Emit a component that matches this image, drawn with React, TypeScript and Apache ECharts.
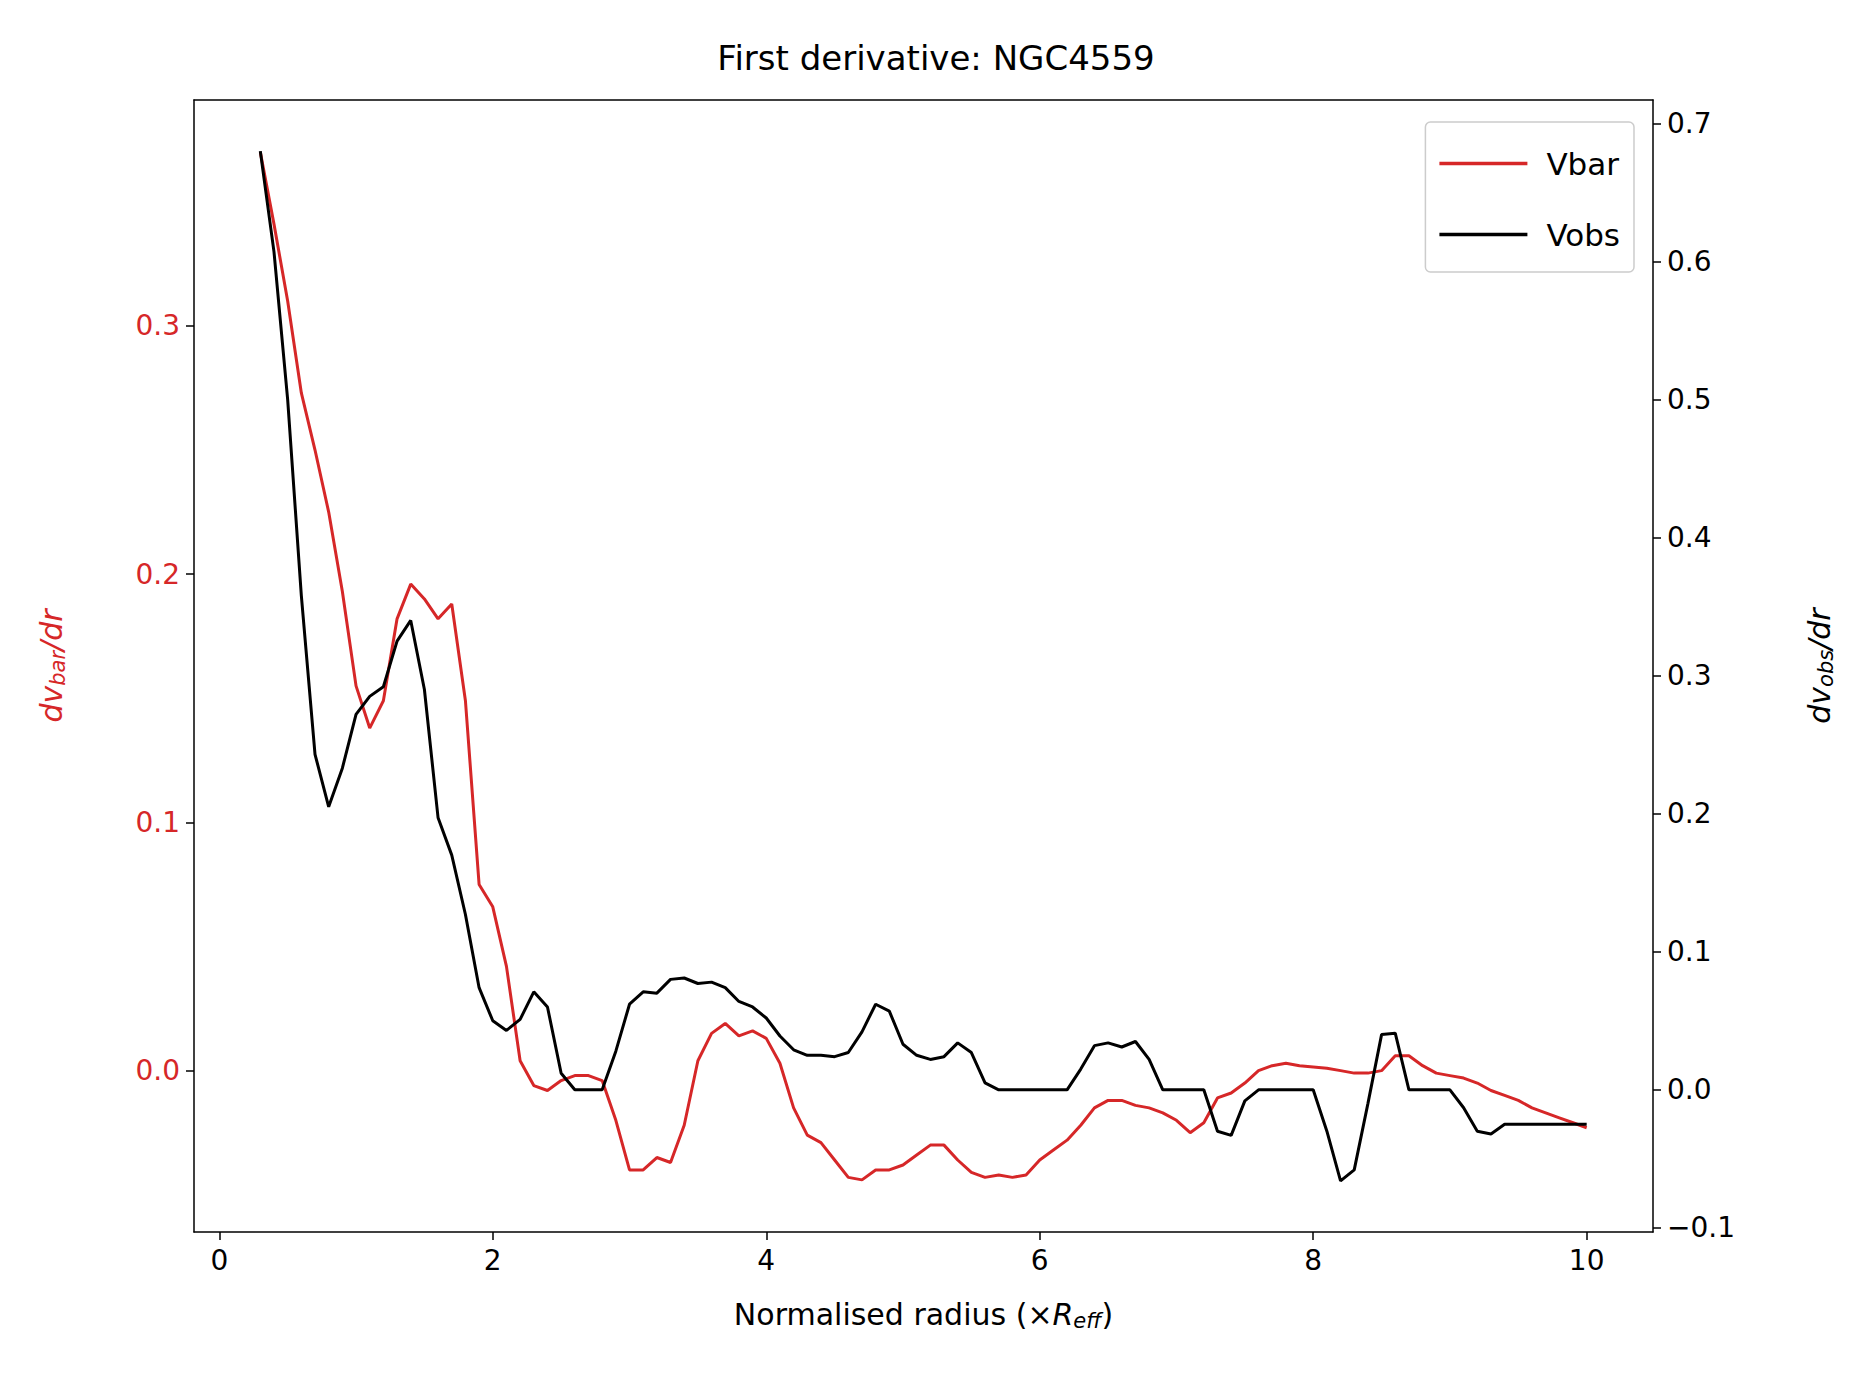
import React, { useEffect, useRef } from "react";
import * as echarts from "echarts";

const radius: number[] = [];
for (let i = 3; i <= 100; i++) radius.push(i / 10);

const vbar = [
  0.37, 0.341, 0.31, 0.273, 0.25, 0.225, 0.193, 0.155, 0.138, 0.149,
  0.182, 0.196, 0.19, 0.182, 0.188, 0.149, 0.075, 0.066, 0.042, 0.004,
  -0.006, -0.008, -0.004, -0.002, -0.002, -0.004, -0.02, -0.04, -0.04, -0.035,
  -0.037, -0.022, 0.004, 0.015, 0.019, 0.014, 0.016, 0.013, 0.003, -0.015,
  -0.026, -0.029, -0.036, -0.043, -0.044, -0.04, -0.04, -0.038, -0.034, -0.03,
  -0.03, -0.036, -0.041, -0.043, -0.042, -0.043, -0.042, -0.036, -0.032, -0.028,
  -0.022, -0.015, -0.012, -0.012, -0.014, -0.015, -0.017, -0.02, -0.025, -0.021,
  -0.011, -0.009, -0.005, 0.0, 0.002, 0.003, 0.002, 0.0015, 0.001, 0.0,
  -0.001, -0.001, 0.0, 0.006, 0.006, 0.002, -0.001, -0.002, -0.003, -0.005,
  -0.008, -0.01, -0.012, -0.015, -0.017, -0.019, -0.021, -0.023,
];

const vobs = [
  0.68, 0.607, 0.5, 0.358, 0.243, 0.205, 0.233, 0.272, 0.285, 0.292,
  0.325, 0.34, 0.29, 0.197, 0.17, 0.127, 0.074, 0.05, 0.043, 0.051,
  0.071, 0.06, 0.012, 0.0, 0.0, 0.0, 0.028, 0.062, 0.071, 0.07,
  0.08, 0.081, 0.077, 0.078, 0.074, 0.064, 0.06, 0.052, 0.039, 0.029,
  0.025, 0.025, 0.024, 0.027, 0.042, 0.062, 0.057, 0.033, 0.025, 0.022,
  0.024, 0.034, 0.027, 0.005, 0.0, 0.0, 0.0, 0.0, 0.0, 0.0,
  0.015, 0.032, 0.034, 0.031, 0.035, 0.022, 0.0, 0.0, 0.0, 0.0,
  -0.03, -0.033, -0.008, 0.0, 0.0, 0.0, 0.0, 0.0, -0.03,
  -0.066, -0.058, -0.01, 0.04, 0.041, 0.0, 0.0, 0.0, 0.0, -0.013,
  -0.03, -0.032, -0.025, -0.025, -0.025, -0.025, -0.025, -0.025, -0.025,
];

const xTicks = [0, 2, 4, 6, 8, 10];
const leftTicks = [0.0, 0.1, 0.2, 0.3];
const rightTicks = [-0.1, 0.0, 0.1, 0.2, 0.3, 0.4, 0.5, 0.6, 0.7];

const FONT = "DejaVu Sans";
const RED = "#d62728";
const LINE_ICON = "path://M0,0 L100,0 L100,4 L0,4 Z";

export default function App() {
  const ref = useRef<HTMLDivElement>(null);
  useEffect(() => {
    const chart = echarts.init(ref.current!, null, { renderer: "svg" });
    const tickCommon = { show: true, length: 8, lineStyle: { color: "#000", width: 1.5 } };
    const axisLine = { show: true, onZero: false, lineStyle: { color: "#000", width: 1.5 } };
    chart.setOption({
      animation: false,
      backgroundColor: "#fff",
      textStyle: { fontFamily: FONT },
      title: {
        text: "First derivative: NGC4559",
        left: "center",
        top: 28,
        textStyle: { fontFamily: FONT, fontSize: 34, fontWeight: "normal", color: "#000" },
      },
      grid: { left: 186, right: 211, top: 92, bottom: 157 },
      legend: {
        top: 114,
        right: 230,
        orient: "vertical",
        itemWidth: 88,
        itemHeight: 4,
        itemGap: 40,
        padding: [26, 14, 22, 14],
        borderColor: "#ccc",
        borderWidth: 1.5,
        borderRadius: 5,
        backgroundColor: "rgba(255,255,255,0.8)",
        textStyle: { fontFamily: FONT, fontSize: 31, color: "#000", padding: [0, 0, 0, 14] },
        data: [
          { name: "Vbar", icon: LINE_ICON },
          { name: "Vobs", icon: LINE_ICON },
        ],
      },
      xAxis: [
        {
          type: "value",
          min: -0.185,
          max: 10.485,
          splitLine: { show: false },
          axisLine,
          axisTick: { ...tickCommon, customValues: xTicks },
          axisLabel: { customValues: xTicks, fontSize: 28, color: "#000", margin: 14, fontFamily: FONT },
          name: "Normalised radius (×{i|R}{s|eff})",
          nameLocation: "middle",
          nameGap: 66,
          nameTextStyle: {
            fontSize: 30, color: "#000", fontFamily: FONT,
            rich: {
              i: { fontSize: 30, fontStyle: "italic", fontFamily: FONT, color: "#000" },
              s: { fontSize: 21, fontStyle: "italic", fontFamily: FONT, color: "#000", padding: [12, 0, 0, 0] },
            },
          },
        },
        {
          type: "value",
          position: "top",
          min: -0.185,
          max: 10.485,
          splitLine: { show: false },
          axisLine,
          axisTick: { show: false },
          axisLabel: { show: false },
        },
      ],
      yAxis: [
        {
          type: "value",
          position: "left",
          min: -0.065,
          max: 0.391,
          splitLine: { show: false },
          axisLine,
          axisTick: { ...tickCommon, customValues: leftTicks },
          axisLabel: {
            customValues: leftTicks, fontSize: 28, color: RED, margin: 14, fontFamily: FONT,
            formatter: (v: number) => v.toFixed(1),
          },
          name: "{i|dv}{s|bar}{i|/dr}",
          nameLocation: "middle",
          nameRotate: 90,
          nameGap: 126,
          nameTextStyle: {
            rich: {
              i: { fontSize: 30, fontStyle: "italic", fontFamily: FONT, color: RED },
              s: { fontSize: 21, fontStyle: "italic", fontFamily: FONT, color: RED, padding: [12, 0, 0, 0] },
            },
          },
        },
        {
          type: "value",
          position: "right",
          min: -0.103,
          max: 0.717,
          splitLine: { show: false },
          axisLine,
          axisTick: { ...tickCommon, customValues: rightTicks },
          axisLabel: {
            customValues: rightTicks, fontSize: 28, color: "#000", margin: 14, fontFamily: FONT,
            formatter: (v: number) => (v < 0 ? "\u2212" + Math.abs(v).toFixed(1) : v.toFixed(1)),
          },
          name: "{i|dv}{s|obs}{i|/dr}",
          nameLocation: "middle",
          nameRotate: 90,
          nameGap: 150,
          nameTextStyle: {
            rich: {
              i: { fontSize: 30, fontStyle: "italic", fontFamily: FONT, color: "#000" },
              s: { fontSize: 21, fontStyle: "italic", fontFamily: FONT, color: "#000", padding: [12, 0, 0, 0] },
            },
          },
        },
      ],
      series: [
        {
          name: "Vbar",
          type: "line",
          yAxisIndex: 0,
          symbol: "none",
          data: radius.map((r, i) => [r, vbar[i]]),
          lineStyle: { color: RED, width: 3 },
          itemStyle: { color: RED },
        },
        {
          name: "Vobs",
          type: "line",
          yAxisIndex: 1,
          symbol: "none",
          data: radius.map((r, i) => [r, vobs[i]]),
          lineStyle: { color: "#000", width: 3 },
          itemStyle: { color: "#000" },
        },
      ],
    });
    return () => chart.dispose();
  }, []);
  return <div ref={ref} style={{ width: 1856, height: 1381 }} />;
}
